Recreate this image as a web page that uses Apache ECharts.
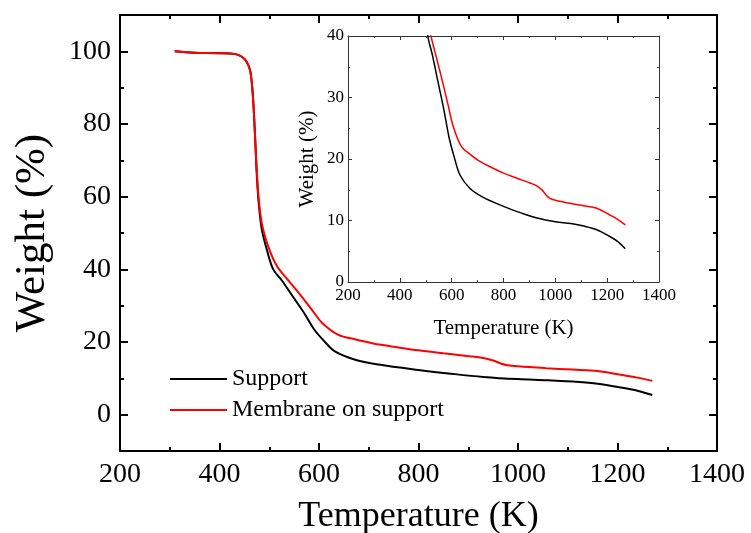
<!DOCTYPE html>
<html>
<head>
<meta charset="utf-8">
<script src="https://cdn.jsdelivr.net/npm/echarts@6/dist/echarts.min.js"></script>
<style>
  html, body { margin: 0; padding: 0; background: #fff; }
  #chart { width: 751px; height: 533px; }
</style>
</head>
<body>
<div id="chart"></div>
<script>
  // TGA curves
  var supportTemp = [310, 350, 400, 430, 445, 455, 462, 467, 471, 475, 479, 485, 495, 508, 525, 545, 570, 590, 610, 632, 671, 720, 800, 870, 930, 1000, 1060, 1110, 1160, 1210, 1240, 1270];
  var supportWeight = [100, 99.6, 99.5, 99.3, 98.5, 97, 94.5, 88, 78, 66, 58, 51, 45.5, 40, 37, 33, 28, 23.5, 20.3, 17.4, 15.2, 13.8, 12.3, 11.2, 10.4, 9.8, 9.5, 9.1, 8.5, 7.4, 6.6, 5.4];
  var membraneTemp = [310, 350, 400, 430, 445, 455, 462, 467, 471, 475, 479, 486, 500, 515, 535, 560, 585, 606, 638, 670, 709, 760, 800, 850, 902, 930, 950, 965, 979, 1000, 1056, 1110, 1160, 1210, 1240, 1270];
  var membraneWeight = [100, 99.6, 99.5, 99.3, 98.5, 97, 94.5, 88, 78, 67, 59, 52, 45.5, 41, 37.5, 33.4, 29, 25.3, 22, 20.8, 19.6, 18.5, 17.7, 16.9, 16.1, 15.6, 14.9, 14.1, 13.6, 13.3, 12.8, 12.4, 12.0, 10.9, 10.2, 9.3];

  var seriesNames = ['Support', 'Membrane on support'];
  var seriesColors = ['#000000', '#ff0000'];

  var mainYLabels = [0, 20, 40, 60, 80, 100];
  var mainYMinor = [10, 30, 50, 70, 90];

  var serif = "'Liberation Serif', 'Times New Roman', serif";

  function pairs(xs, ys) {
    return xs.map(function (x, i) { return [x, ys[i]]; });
  }

  function plain(v) { return String(v); }

  // one axis of the frame; labels only on bottom/left
  function xAx(grid, pos, big, withLabels) {
    return {
      type: 'value', gridIndex: grid, position: pos,
      min: 200, max: 1400, interval: 200,
      axisLine: { show: true, onZero: false, lineStyle: { color: big ? '#000' : '#333', width: big ? 2 : 1 } },
      axisTick: { show: true, inside: true, length: big ? 8 : 4, lineStyle: { width: big ? 2 : 1, color: big ? '#000' : '#333' } },
      minorTick: { show: true, splitNumber: 2, length: big ? 4 : 2, lineStyle: { width: big ? 2 : 1, color: big ? '#000' : '#333' } },
      axisLabel: { show: withLabels, formatter: plain, color: '#000', fontFamily: serif, fontSize: big ? 28 : 17, margin: big ? 10 : 5 },
      splitLine: { show: false }, minorSplitLine: { show: false }
    };
  }

  function curve(name, color, xs, ys, xi, yi, w) {
    return {
      name: name, type: 'line', xAxisIndex: xi, yAxisIndex: yi,
      data: pairs(xs, ys), showSymbol: false, clip: true, smooth: 0.35,
      itemStyle: { color: color }, lineStyle: { color: color, width: w }
    };
  }

  var option = {
    backgroundColor: '#fff',
    animation: false,
    grid: [
      { left: 120, top: 15, right: 34, bottom: 82, outerBoundsMode: 'none' },
      { left: 348, top: 36, right: 92, bottom: 251, outerBoundsMode: 'none' }
    ],
    legend: {
      orient: 'vertical', left: 165, top: 362,
      itemWidth: 57, itemHeight: 2, itemGap: 7, icon: 'rect',
      textStyle: { fontFamily: serif, fontSize: 24, color: '#000' },
      data: seriesNames
    },
    xAxis: [
      Object.assign(xAx(0, 'bottom', true, true), {
        name: 'Temperature (K)', nameLocation: 'middle', nameGap: 48,
        nameTextStyle: { fontFamily: serif, fontSize: 36, color: '#000' }
      }),
      xAx(0, 'top', true, false),
      Object.assign(xAx(1, 'bottom', false, true), {
        name: 'Temperature (K)', nameLocation: 'middle', nameGap: 36,
        nameTextStyle: { fontFamily: serif, fontSize: 21, color: '#000' }
      }),
      xAx(1, 'top', false, false)
    ],
    yAxis: [
      {
        type: 'value', gridIndex: 0, position: 'left', min: -10, max: 110, interval: 10,
        name: 'Weight (%)', nameLocation: 'middle', nameGap: 66,
        nameTextStyle: { fontFamily: serif, fontSize: 43, color: '#000' },
        axisLine: { show: true, onZero: false, lineStyle: { color: '#000', width: 2 } },
        axisTick: { show: true, inside: true, length: 8, customValues: mainYLabels, lineStyle: { width: 2, color: '#000' } },
        axisLabel: { color: '#000', fontFamily: serif, fontSize: 28, margin: 9, customValues: mainYLabels },
        splitLine: { show: false }
      },
      {
        type: 'value', gridIndex: 0, position: 'right', min: -10, max: 110, interval: 10,
        axisLine: { show: true, onZero: false, lineStyle: { color: '#000', width: 2 } },
        axisTick: { show: true, inside: true, length: 8, customValues: mainYLabels, lineStyle: { width: 2, color: '#000' } },
        axisLabel: { show: false },
        splitLine: { show: false }
      },
      {
        type: 'value', gridIndex: 0, position: 'left', min: -10, max: 110, interval: 10,
        axisLine: { show: false },
        axisTick: { show: true, inside: true, length: 4, customValues: mainYMinor, lineStyle: { width: 2, color: '#000' } },
        axisLabel: { show: false },
        splitLine: { show: false }
      },
      {
        type: 'value', gridIndex: 0, position: 'right', min: -10, max: 110, interval: 10,
        axisLine: { show: false },
        axisTick: { show: true, inside: true, length: 4, customValues: mainYMinor, lineStyle: { width: 2, color: '#000' } },
        axisLabel: { show: false },
        splitLine: { show: false }
      },
      {
        type: 'value', gridIndex: 1, position: 'left', min: 0, max: 40, interval: 10,
        name: 'Weight (%)', nameLocation: 'middle', nameGap: 30,
        nameTextStyle: { fontFamily: serif, fontSize: 21, color: '#000' },
        axisLine: { show: true, onZero: false, lineStyle: { color: '#333', width: 1 } },
        axisTick: { show: true, inside: true, length: 4, lineStyle: { color: '#333' } },
        minorTick: { show: true, splitNumber: 2, length: 2, lineStyle: { color: '#333' } },
        axisLabel: { color: '#000', fontFamily: serif, fontSize: 17, margin: 4 },
        splitLine: { show: false }, minorSplitLine: { show: false }
      },
      {
        type: 'value', gridIndex: 1, position: 'right', min: 0, max: 40, interval: 10,
        axisLine: { show: true, onZero: false, lineStyle: { color: '#333', width: 1 } },
        axisTick: { show: true, inside: true, length: 4, lineStyle: { color: '#333' } },
        minorTick: { show: true, splitNumber: 2, length: 2, lineStyle: { color: '#333' } },
        axisLabel: { show: false },
        splitLine: { show: false }, minorSplitLine: { show: false }
      }
    ],
    series: [
      curve(seriesNames[0], seriesColors[0], supportTemp, supportWeight, 0, 0, 2),
      curve(seriesNames[1], seriesColors[1], membraneTemp, membraneWeight, 0, 0, 2),
      curve(seriesNames[0], seriesColors[0], supportTemp, supportWeight, 2, 4, 1.5),
      curve(seriesNames[1], seriesColors[1], membraneTemp, membraneWeight, 2, 4, 1.5)
    ]
  };

  var myChart = echarts.init(document.getElementById('chart'));
  myChart.setOption(option);
</script>
</body>
</html>
